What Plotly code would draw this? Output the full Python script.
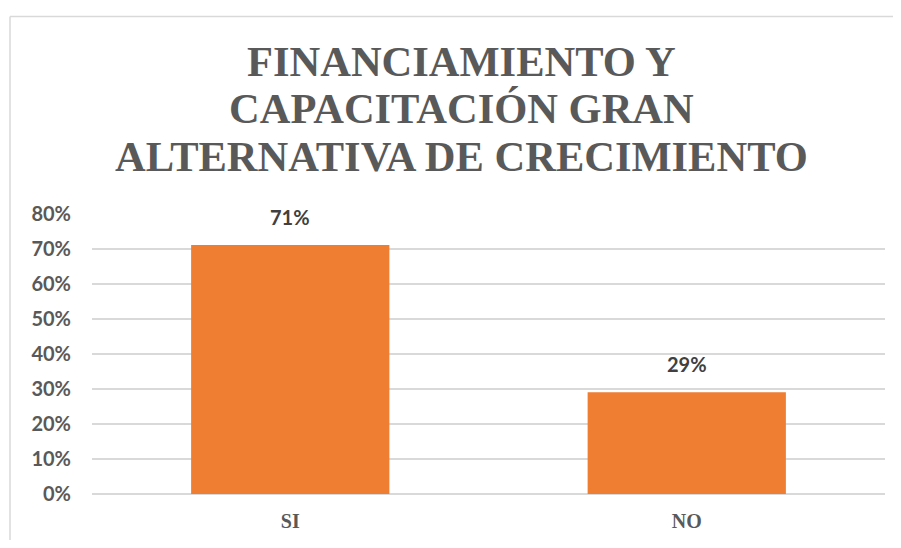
import plotly.graph_objects as go

categories = ["SI", "NO"]
values = [0.71, 0.29]
label_texts = ["71%", "29%"]
title_lines = ["FINANCIAMIENTO Y", "CAPACITACIÓN GRAN", "ALTERNATIVA DE CRECIMIENTO"]
tick_vals = [0, 0.1, 0.2, 0.3, 0.4, 0.5, 0.6, 0.7, 0.8]
tick_text = ["0%", "10%", "20%", "30%", "40%", "50%", "60%", "70%", "80%"]

# page body has an 8px margin on every side; size the figure so the page does not overflow
OFF = 8
W, H = 901 - 2 * OFF, 548 - 2 * OFF
ml = 92 - OFF
mt = 213 - OFF
plot_right = 885 - OFF
plot_bottom = 499 - OFF
mr = W - plot_right
mb = H - plot_bottom
plot_h = plot_bottom - mt
plot_w = plot_right - ml

def py(Y):
    return (plot_bottom - (Y - OFF)) / plot_h

def px(X):
    return ((X - OFF) - ml) / plot_w

SERIF = "'Liberation Serif', 'Times New Roman', Times, serif"
SANS = "Lato"

fig = go.Figure()
fig.add_trace(go.Bar(
    x=categories, y=values,
    marker=dict(color="#ef7d32", line=dict(width=0)),
    hoverinfo="skip",
))

for c, v, t in zip(categories, values, label_texts):
    fig.add_annotation(x=c, y=v, text="<b>" + t + "</b>", showarrow=False, yanchor="bottom", yshift=14,
                       font=dict(family=SANS, size=20, color="#404040"))

title_centers = [59, 107, 156]
for line, yc in zip(title_lines, title_centers):
    fig.add_annotation(xref="paper", yref="paper", x=px(461), y=py(yc), text=line,
                       showarrow=False, xanchor="center", yanchor="middle",
                       font=dict(family=SERIF, size=42.5, color="#595959", weight="bold"))

# chart-area frame: only the left and top edges fall inside the picture
fig.add_shape(type="line", xref="paper", yref="paper",
              x0=px(10), x1=px(10), y0=py(600), y1=py(13),
              line=dict(color="#d9d9d9", width=1.5))
fig.add_shape(type="line", xref="paper", yref="paper",
              x0=px(10), x1=px(960), y0=py(13), y1=py(13),
              line=dict(color="#d9d9d9", width=1.5))

fig.update_layout(
    width=W, height=H,
    margin=dict(l=ml, r=mr, t=mt, b=mb),
    paper_bgcolor="white", plot_bgcolor="white",
    bargap=0.5,
    showlegend=False,
    xaxis=dict(
        showgrid=False, showline=False, zeroline=False, ticks="",
        tickfont=dict(family=SERIF, size=20, color="#595959", weight="bold"),
        ticklabelstandoff=13,
    ),
    yaxis=dict(
        range=[0, 0.8015], tickvals=tick_vals, ticktext=tick_text,
        showgrid=True, gridcolor="#d9d9d9", gridwidth=1.5,
        zeroline=True, zerolinecolor="#d9d9d9", zerolinewidth=1.5,
        showline=False, ticks="",
        tickfont=dict(family=SANS, size=20, color="#595959", weight="bold"),
        ticklabelstandoff=20,
    ),
)

fig.write_html("out.html")
